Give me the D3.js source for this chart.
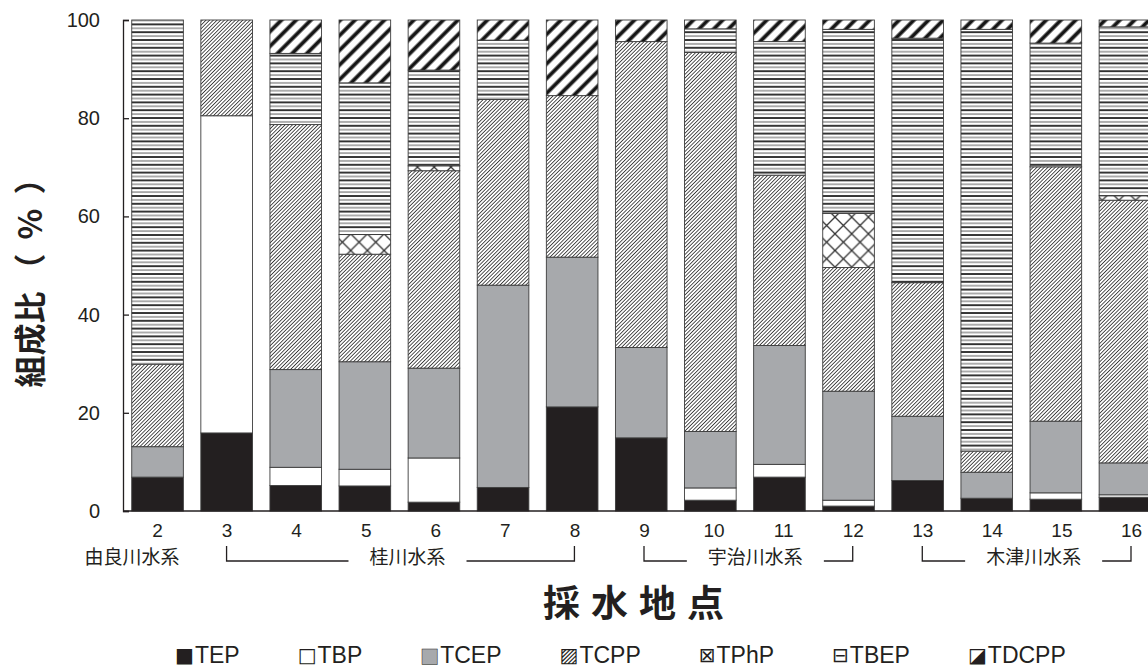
<!DOCTYPE html>
<html>
<head>
<meta charset="utf-8">
<script src="https://cdn.jsdelivr.net/npm/d3@7"></script>
<style>
  body { margin: 0; background: #fff; }
  svg { display: block; }
</style>
</head>
<body>
<svg id="chart" width="1148" height="668"></svg>
<script>
// Sampling sites (採水地点)
const sites = ["2","3","4","5","6","7","8","9","10","11","12","13","14","15","16"];

// Composition ratio (%) of each organophosphate ester at each site
const TEP   = [ 6.9, 15.9,  5.2,  5.1,  1.8,  4.8, 21.2, 14.9,  2.2,  6.9,  1.0,  6.2,  2.6,  2.4,  2.8];
const TBP   = [ 0.0, 64.6,  3.7,  3.4,  9.0,  0.0,  0.0,  0.0,  2.5,  2.6,  1.2,  0.0,  0.0,  1.3,  0.5];
const TCEP  = [ 6.2,  0.0, 19.9, 21.9, 18.3, 41.2, 30.5, 18.4, 11.5, 24.2, 22.2, 13.1,  5.3, 14.6,  6.5];
const TCPP  = [16.8, 19.5, 49.9, 21.9, 40.2, 37.8, 32.9, 62.3, 77.2, 34.7, 25.2, 27.2,  4.3, 51.8, 53.5];
const TPhP  = [ 0.0,  0.0,  0.0,  4.0,  1.0,  0.0,  0.0,  0.0,  0.0,  0.0, 11.0,  0.0,  0.0,  0.0,  0.9];
const TBEP  = [70.1,  0.0, 14.5, 30.9, 19.5, 12.1,  0.0,  0.0,  4.8, 27.2, 37.5, 49.8, 85.9, 25.2, 34.4];
const TDCPP = [ 0.0,  0.0,  6.8, 12.8, 10.2,  4.1, 15.4,  4.4,  1.8,  4.4,  1.9,  3.7,  1.9,  4.7,  1.4];

const compounds = ["TEP","TBP","TCEP","TCPP","TPhP","TBEP","TDCPP"];
const legendMarks = ["■","□","■","▨","⊠","⊟","◪"];
const yTicks = [0, 20, 40, 60, 80, 100];

// River systems and the sites they cover
const basinNames = ["由良川水系","桂川水系","宇治川水系","木津川水系"];
const basinFirst = ["2","3","9","13"];
const basinLast  = ["2","8","12","16"];

const series = { TEP, TBP, TCEP, TCPP, TPhP, TBEP, TDCPP };
const rows = sites.map((s, i) => {
  const r = { site: s };
  compounds.forEach(c => { r[c] = series[c][i]; });
  return r;
});

const ink = "#231f20";
const latin = "'Liberation Sans', Arial, sans-serif";
const cjk = "'Noto Sans CJK JP', 'Noto Sans', sans-serif";
const svg = d3.select("#chart");

// ---- hatch patterns ----
const defs = svg.append("defs");
function linePattern(id, period, angle, strokeW, color) {
  const p = defs.append("pattern")
    .attr("id", id).attr("patternUnits", "userSpaceOnUse")
    .attr("width", period).attr("height", 20)
    .attr("patternTransform", `rotate(${angle})`);
  p.append("rect").attr("width", period).attr("height", 20).attr("fill", "#fff");
  p.append("line").attr("x1", period / 2).attr("x2", period / 2)
    .attr("y1", 0).attr("y2", 20)
    .attr("stroke", color).attr("stroke-width", strokeW);
}
linePattern("pTCPP", 2.6, 45, 0.9, "#3a3a3a");
linePattern("pTDCPP", 10.4, 45, 3.8, "#161616");

// horizontal rules for TBEP
const pb = defs.append("pattern").attr("id", "pTBEP")
  .attr("patternUnits", "userSpaceOnUse").attr("width", 10).attr("height", 7.8);
pb.append("rect").attr("width", 10).attr("height", 7.8).attr("fill", "#fff");
pb.append("line").attr("x1", 0).attr("x2", 10).attr("y1", 1).attr("y2", 1)
  .attr("stroke", "#222").attr("stroke-width", 1.8);
pb.append("line").attr("x1", 0).attr("x2", 10).attr("y1", 4.9).attr("y2", 4.9)
  .attr("stroke", "#777").attr("stroke-width", 1.2);

// diamond cross-hatch for TPhP
const pc = defs.append("pattern").attr("id", "pTPhP")
  .attr("patternUnits", "userSpaceOnUse").attr("width", 16.7).attr("height", 16.7);
pc.append("rect").attr("width", 16.7).attr("height", 16.7).attr("fill", "#fff");
pc.append("path").attr("d", "M0,0L16.7,16.7M16.7,0L0,16.7")
  .attr("stroke", "#333").attr("stroke-width", 1.3).attr("fill", "none");

const fills = {
  TEP: ink, TBP: "#ffffff", TCEP: "#a7a9ac",
  TCPP: "url(#pTCPP)", TPhP: "url(#pTPhP)", TBEP: "url(#pTBEP)", TDCPP: "url(#pTDCPP)"
};

// ---- scales ----
const y = d3.scaleLinear().domain([0, 100]).range([511, 20]);
const x = d3.scaleBand().domain(sites).range([123, 1159.5])
  .paddingInner(0.253).paddingOuter(0.1265);
// tick labels sit on a slightly wider spacing than the bars
const xl = d3.scalePoint().domain(sites).range([157, 1131]);

// ---- stacked bars ----
const stacked = d3.stack().keys(compounds)(rows);
svg.append("g").selectAll("g").data(stacked).join("g")
  .attr("fill", d => fills[d.key])
  .selectAll("rect").data(d => d.filter(v => v[1] - v[0] > 0)).join("rect")
  .attr("x", d => x(d.data.site))
  .attr("width", x.bandwidth())
  .attr("y", d => y(d[1]))
  .attr("height", d => y(d[0]) - y(d[1]))
  .attr("stroke", "#3c3c3c").attr("stroke-width", 0.9);

// ---- axes ----
const yAxis = svg.append("g").attr("transform", "translate(123,0)")
  .call(d3.axisLeft(y).tickValues(yTicks).tickSizeInner(-6).tickSizeOuter(-6).tickPadding(23));
yAxis.select(".domain").attr("stroke", ink).attr("stroke-width", 1.3);
yAxis.selectAll(".tick line").attr("stroke", ink).attr("stroke-width", 1.3);
yAxis.selectAll(".tick text")
  .attr("font-family", latin).attr("font-size", 20).attr("fill", ink);

svg.append("line").attr("x1", 123).attr("x2", 1148).attr("y1", y(0)).attr("y2", y(0))
  .attr("stroke", ink).attr("stroke-width", 1.3);

const xAxis = svg.append("g").attr("transform", `translate(0,${y(0)})`)
  .call(d3.axisBottom(xl).tickSize(0).tickPadding(13));
xAxis.select(".domain").remove();
xAxis.selectAll(".tick text")
  .attr("font-family", latin).attr("font-size", 19).attr("fill", ink);

// ---- river-system labels with brackets ----
const gy = 564, by0 = 546, by1 = 561, gap = 21;
basinNames.forEach((name, i) => {
  const a = xl(basinFirst[i]), b = xl(basinLast[i]);
  const g = svg.append("g");
  const cx = a === b ? a - 25 : (a + b) / 2 + 7;
  const t = g.append("text").attr("x", cx).attr("y", gy)
    .attr("text-anchor", "middle").attr("font-family", cjk)
    .attr("font-size", 19).attr("fill", ink).text(name);
  if (a !== b) {
    const w = t.node().getComputedTextLength();
    g.append("path")
      .attr("d", `M${a},${by0}V${by1}H${cx - w / 2 - gap}M${cx + w / 2 + gap},${by1}H${b}V${by0}`)
      .attr("fill", "none").attr("stroke", ink).attr("stroke-width", 1.3);
  }
});

// ---- axis titles ----
const yt = svg.append("text").attr("transform", "translate(42,268) rotate(-90)")
  .attr("text-anchor", "middle").attr("font-family", cjk)
  .attr("font-size", 32).attr("font-weight", "bold").attr("fill", ink);
yt.append("tspan").text("組成比");
yt.append("tspan").attr("dx", 6).attr("letter-spacing", 14).text("（%）");

svg.append("text").attr("x", 639).attr("y", 617)
  .attr("text-anchor", "middle").attr("font-family", cjk)
  .attr("font-size", 37).attr("font-weight", "bold").attr("fill", ink)
  .attr("letter-spacing", 11)
  .text("採水地点");

// ---- legend ----
const lg = svg.append("g");
let lx = 175;
compounds.forEach((c, i) => {
  const m = lg.append("text").attr("x", lx).attr("y", 662)
    .attr("font-family", "'DejaVu Sans', sans-serif").attr("font-size", 20)
    .attr("fill", c === "TCEP" ? "#a7a9ac" : ink).text(legendMarks[i]);
  if (c === "TCEP") m.attr("stroke", ink).attr("stroke-width", 0.5);
  const mw = m.node().getComputedTextLength();
  const t = lg.append("text").attr("x", lx + mw + 1).attr("y", 662.5)
    .attr("font-family", latin).attr("font-size", 23).attr("fill", ink).text(c);
  lx += mw + 1 + t.node().getComputedTextLength() + 58;
});
</script>
</body>
</html>
